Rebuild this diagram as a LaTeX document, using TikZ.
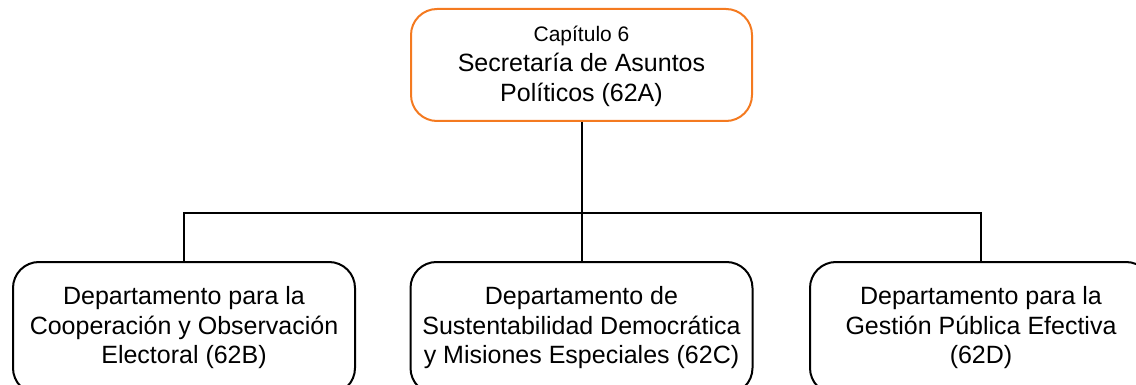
\documentclass[tikz,border=0pt]{standalone}
\usepackage{fontspec}
\setmainfont{Liberation Sans}
\definecolor{boxorange}{HTML}{F47A20}
\begin{document}
\begin{tikzpicture}[x=1pt,y=-1pt,
  topbox/.style={draw=boxorange,line width=2pt,rounded corners=26pt,minimum width=341pt,minimum height=112pt,align=center,inner sep=0pt},
  deptbox/.style={draw=black,line width=2pt,rounded corners=26pt,minimum width=342pt,minimum height=132pt,align=center,inner sep=0pt,font=\fontsize{25}{29.5}\selectfont},
  conn/.style={line width=2pt}]
\useasboundingbox (0,0) rectangle (1136,385);
\clip (0,0) rectangle (1136,385);
\node[topbox] (top) at (581.5,65) {};
\node[align=center,inner sep=0pt,font=\fontsize{25}{30}\selectfont] (toptext) at (581.5,66.5) {{\fontsize{21}{28}\selectfont Capítulo 6}\\Secretaría de Asuntos\\Políticos (62A)};
\node[deptbox] (b) at (184,328) {Departamento para la\\Cooperación y Observación\\Electoral (62B)};
\node[deptbox] (c) at (581.5,328) {Departamento de\\Sustentabilidad Democrática\\y Misiones Especiales (62C)};
\node[deptbox] (d) at (981,328) {Departamento para la\\Gestión Pública Efectiva\\(62D)};
\coordinate (j) at (581.5,213);
\draw[conn] (top.south) -- (j);
\draw[conn] (b.north) |- (j) -| (d.north);
\draw[conn] (j) -- (c.north);
\end{tikzpicture}
\end{document}
